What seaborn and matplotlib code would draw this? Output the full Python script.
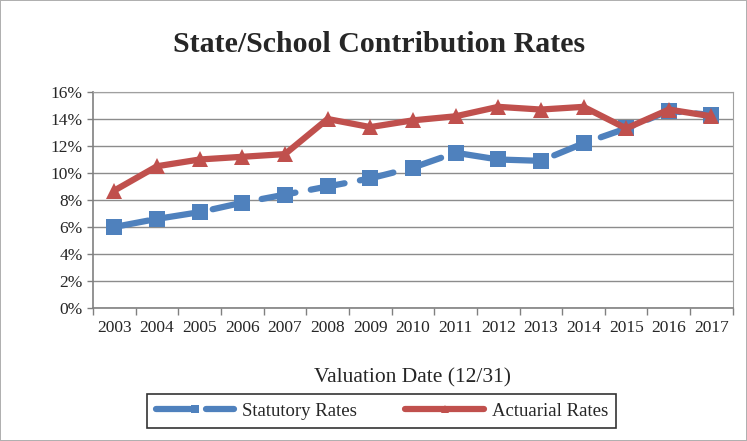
import pandas as pd
import matplotlib.pyplot as plt
import seaborn as sns
from matplotlib.ticker import FixedLocator, PercentFormatter

# Valores
years = ['2003', '2004', '2005', '2006', '2007', '2008', '2009', '2010',
         '2011', '2012', '2013', '2014', '2015', '2016', '2017']
statutory = [6.0, 6.6, 7.1, 7.8, 8.4, 9.0, 9.6, 10.4, 11.5, 11.0, 10.9, 12.2, 13.3, 14.6, 14.3]
actuarial = [8.7, 10.5, 11.0, 11.2, 11.4, 14.0, 13.4, 13.9, 14.2, 14.9, 14.7, 14.9, 13.3, 14.7, 14.2]

df = pd.DataFrame({'pos': range(len(years)), 'Statutory Rates': statutory,
                   'Actuarial Rates': actuarial})

sns.set_style('white')
plt.rcParams['font.family'] = ['Liberation Serif', 'DejaVu Serif']

fig = plt.figure(figsize=(7.47, 4.41), dpi=100, linewidth=1.2, edgecolor='#b0b0b0')
ax = fig.add_axes([0.1245, 0.3016, 0.8565, 0.4898])

blue = '#4F81BD'
red = '#C0504D'

sns.lineplot(data=df, x='pos', y='Statutory Rates', ax=ax, color=blue, lw=4.5,
             marker='s', markersize=11, markeredgewidth=0, label='Statutory Rates')
sns.lineplot(data=df, x='pos', y='Actuarial Rates', ax=ax, color=red, lw=4.5,
             marker='^', markersize=11, markeredgewidth=0, label='Actuarial Rates')
ax.lines[0].set_dashes([5.5, 2.5])
ax.lines[0].set_dash_capstyle('round')

ax.set_xlim(-0.5, len(years) - 0.5)
ax.set_ylim(0, 16)
ax.set_yticks(range(0, 17, 2))
ax.yaxis.set_major_formatter(PercentFormatter(decimals=0))
ax.xaxis.set_major_locator(FixedLocator([i - 0.5 for i in range(len(years) + 1)]))
ax.xaxis.set_minor_locator(FixedLocator(list(range(len(years)))))
ax.set_xticklabels([])
ax.set_xticklabels(years, minor=True)
ax.tick_params(axis='x', which='major', length=5, width=1, color='#808080', direction='out', bottom=True)
ax.tick_params(axis='x', which='minor', length=0, labelsize=12.5, pad=9)
ax.tick_params(axis='y', length=4, width=1, color='#808080', direction='out', left=True, labelsize=12.5)
ax.grid(axis='y', color='#8c8c8c', lw=1)
ax.set_axisbelow(True)
for side in ['left', 'bottom']:
    ax.spines[side].set_color('#808080')
    ax.spines[side].set_linewidth(1.2)
for side in ['top', 'right']:
    ax.spines[side].set_color('#a0a0a0')

ax.set_xlabel('Valuation Date (12/31)', fontsize=15.5, labelpad=23)
ax.set_ylabel('')
fig.text(0.508, 0.9, 'State/School Contribution Rates', ha='center', va='center',
         fontsize=21.5, fontweight='bold')

leg = ax.legend(loc='center', bbox_to_anchor=(0.511, 0.067),
                bbox_transform=fig.transFigure, ncol=2, frameon=True, fancybox=False,
                fontsize=13.5, handlelength=4.2, handletextpad=0.4, columnspacing=2.6,
                borderpad=0.45, borderaxespad=0)
leg.get_frame().set_edgecolor('black')
leg.get_frame().set_linewidth(1.2)
for h in leg.legend_handles:
    h.set_markersize(6)

fig.savefig('out.png', dpi=100)
